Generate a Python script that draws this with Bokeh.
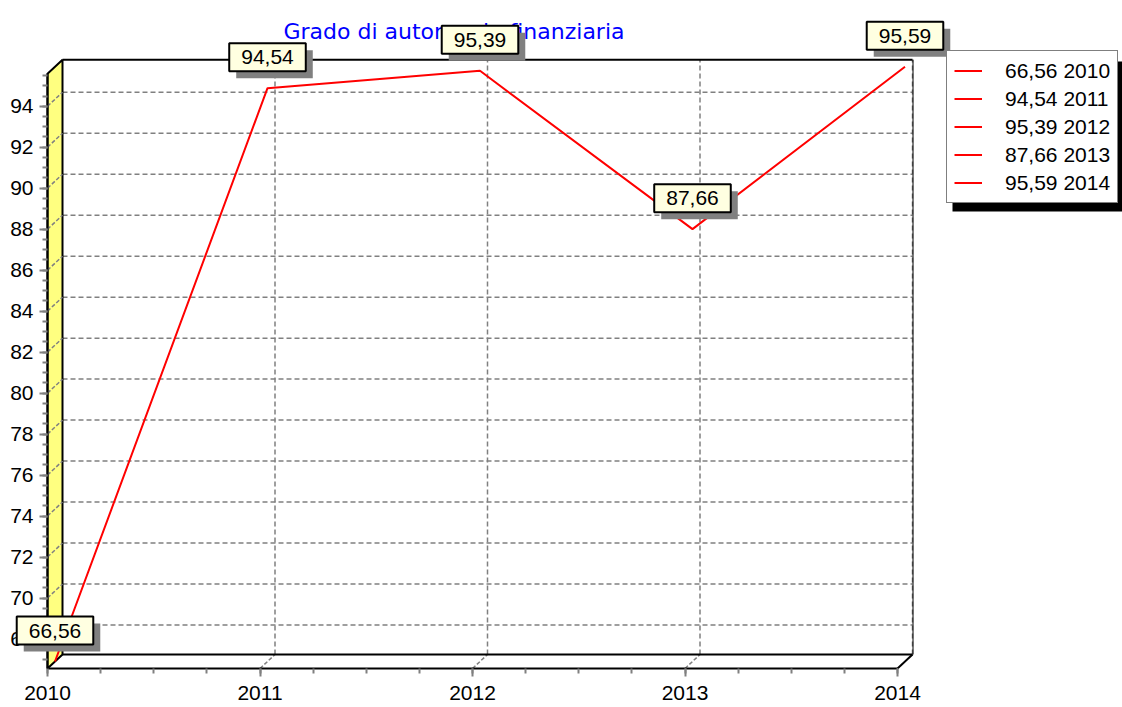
import numpy as np
from bokeh.plotting import figure
from bokeh.models import (Range1d, FixedTicker, Label, Legend, LegendItem, BoxAnnotation)
from bokeh.embed import file_html
from bokeh.resources import INLINE

# ---------------- data ----------------
years = [2010, 2011, 2012, 2013, 2014]
values = [66.56, 94.54, 95.39, 87.66, 95.59]
y_ticks = [68, 70, 72, 74, 76, 78, 80, 82, 84, 86, 88, 90, 92, 94]
x_tick_labels = ["2010", "2011", "2012", "2013", "2014"]
title_text = "Grado di autonomia finanziaria"

value_labels = [f"{v:.2f}".replace(".", ",") for v in values]
legend_labels = [f"{l} {y}" for l, y in zip(value_labels, years)]

# ---------------- layout constants (pixels) ----------------
W, H = 1122, 707
X0 = 47                           # page x of the front-left axis
FB = 668                          # page y of the front floor edge
PX_X = 212.5                      # px per year on the front axis
DEPTH_X, DEPTH_Y = 15, 14         # pseudo-3D depth offset

xmin, xmax = years[0], years[-1]
ymin, ymax = min(values), max(values)
PX_Y = 20.49                      # px per unit on the front axis
dx = DEPTH_X / PX_X
dy = DEPTH_Y / PX_Y
x_start = xmin - X0 / PX_X
x_end = x_start + W / PX_X
y_start = ymin - (H - FB) / PX_Y
y_end = ymin + FB / PX_Y

def cx(page_x):
    return x_start + page_x / PX_X

def cy(page_y):
    return ymin + (FB - page_y) / PX_Y

p = figure(width=W, height=H, x_range=Range1d(x_start, x_end), y_range=Range1d(y_start, y_end),
           output_backend="svg", toolbar_location=None, title=None,
           min_border_left=0, min_border_right=0, min_border_top=0, min_border_bottom=0)
p.background_fill_color = "white"
p.border_fill_color = "white"
p.outline_line_color = None
p.xgrid.visible = False
p.ygrid.visible = False

# ---------------- axes ----------------
GRAY = "#808080"
xa = p.xaxis[0]
xa.fixed_location = ymin
xa.ticker = FixedTicker(ticks=years, minor_ticks=list(np.arange(xmin, xmax + 0.001, 0.25)))
xa.major_label_overrides = {y: t for y, t in zip(years, x_tick_labels)}
xa.bounds = (xmin, xmax)
ya = p.yaxis[0]
ya.fixed_location = xmin
ya.ticker = FixedTicker(ticks=y_ticks, minor_ticks=list(np.arange(67, 95.6, 0.5)))
ya.bounds = (ymin, ymax)
for ax in (xa, ya):
    ax.axis_line_color = "black"
    ax.axis_line_width = 2
    ax.major_tick_line_color = GRAY
    ax.major_tick_line_width = 2
    ax.major_tick_in = 0
    ax.major_tick_out = 8
    ax.minor_tick_line_color = GRAY
    ax.minor_tick_line_width = 2
    ax.minor_tick_in = 0
    ax.minor_tick_out = 5
    ax.major_label_text_font = "Liberation Sans"
    ax.major_label_text_font_size = "21px"
    ax.major_label_text_color = "black"
xa.major_label_standoff = 9
ya.major_label_standoff = 6

# ---------------- title ----------------
p.add_layout(Label(x=cx(283), y=cy(31), text=title_text, text_align="left",
                   text_baseline="alphabetic", text_font="DejaVu Sans",
                   text_font_size="22px", text_color="#0000FF"))

# ---------------- pseudo-3D walls ----------------
x_back0, x_back1 = xmin + dx, xmax + dx
y_back0, y_back1 = ymin + dy, ymax + dy
# back wall horizontal grid
p.segment(x0=[x_back0] * len(y_ticks), x1=[x_back1] * len(y_ticks),
          y0=[t + dy for t in y_ticks], y1=[t + dy for t in y_ticks],
          line_color=GRAY, line_width=1.5, line_dash="5 3")
# back wall vertical grid
p.segment(x0=[y + dx for y in years[1:]], x1=[y + dx for y in years[1:]],
          y0=[y_back0] * 4, y1=[y_back1] * 4,
          line_color=GRAY, line_width=1.5, line_dash="5 3")
# floor diagonals
p.segment(x0=years[1:-1], x1=[y + dx for y in years[1:-1]],
          y0=[ymin] * 3, y1=[y_back0] * 3,
          line_color=GRAY, line_width=1.5, line_dash="4 2")
# left yellow wall
p.patch(x=[xmin, xmin, x_back0, x_back0], y=[ymin, ymax, y_back1, y_back0],
        fill_color="#FFFF80", line_color="black", line_width=2)
p.segment(x0=[xmin] * len(y_ticks), x1=[x_back0] * len(y_ticks),
          y0=y_ticks, y1=[t + dy for t in y_ticks],
          line_color=GRAY, line_width=1.5, line_dash="4 2")
# frame edges
p.line(x=[x_back0, x_back1], y=[y_back1, y_back1], line_color="black", line_width=2)
p.line(x=[x_back0, x_back1], y=[y_back0, y_back0], line_color="black", line_width=2)
p.line(x=[xmax, x_back1], y=[ymin, y_back0], line_color="black", line_width=2)
p.line(x=[x_back1 + 0.5 / PX_X] * 2, y=[y_back0, y_back1], line_color="black", line_width=1)

# ---------------- data line ----------------
line_r = p.line(x=[y + dx / 2 for y in years], y=[v + dy / 2 for v in values],
                line_color="#FF0000", line_width=2)

# ---------------- value labels ----------------
pad = dict(left=12, right=12, top=7, bottom=7)
for yr, v, txt in zip(years, values, value_labels):
    shadow = Label(x=yr + dx / 2, y=v + dy / 2, text=txt, text_align="center", text_baseline="middle",
                   x_offset=7, y_offset=31 - 7, text_font="Liberation Sans", text_font_size="21px",
                   text_color=GRAY, background_fill_color=GRAY, padding=pad)
    lab = Label(x=yr + dx / 2, y=v + dy / 2, text=txt, text_align="center", text_baseline="middle",
                x_offset=0, y_offset=31, text_font="Liberation Sans", text_font_size="21px",
                text_color="black", background_fill_color="#FFFFE1",
                border_line_color="black", border_line_width=2, padding=pad)
    p.add_layout(shadow)
    p.add_layout(lab)

# ---------------- legend ----------------
p.add_layout(BoxAnnotation(left=cx(952), right=cx(1135), top=cy(61), bottom=cy(211),
                           fill_color="black", fill_alpha=1, line_color=None, level="underlay"))
legend = Legend(items=[LegendItem(label=l, renderers=[line_r]) for l in legend_labels],
                location=(946, H - 203),
                border_line_color="black", border_line_width=1.5,
                background_fill_color="white", background_fill_alpha=1,
                label_text_font="Liberation Sans", label_text_font_size="21px",
                label_text_color="black",
                glyph_width=28, glyph_height=25, label_height=25, label_standoff=23,
                padding=7, spacing=3, margin=0)
p.add_layout(legend, "center")

open("out.html", "w").write(file_html(p, INLINE))
